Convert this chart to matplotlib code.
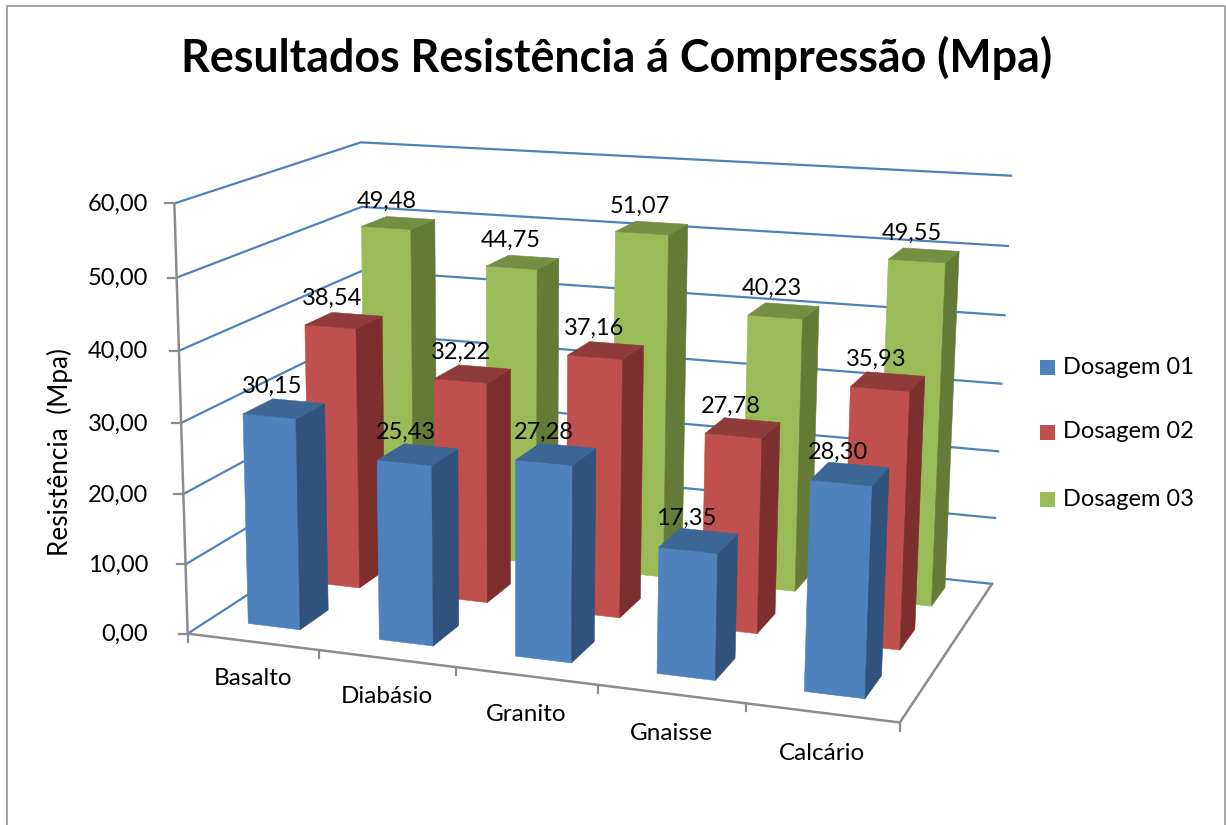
import numpy as np
import matplotlib
matplotlib.use("Agg")
from matplotlib import pyplot as plt
from matplotlib.patches import Polygon, Rectangle

categories = ["Basalto", "Diabásio", "Granito", "Gnaisse", "Calcário"]
series_names = ["Dosagem 01", "Dosagem 02", "Dosagem 03"]
dosagem_01 = [30.15, 25.43, 27.28, 17.35, 28.30]
dosagem_02 = [38.54, 32.22, 37.16, 27.78, 35.93]
dosagem_03 = [49.48, 44.75, 51.07, 40.23, 49.55]
value_ticks = [0, 10, 20, 30, 40, 50, 60]

# front, side, top face colours per series
face_colors = [("#4F81BD", "#30527C", "#3E6695"),
               ("#C0504D", "#7D2F2E", "#8F3B39"),
               ("#9BBB59", "#667A38", "#748E44")]
GRID = "#4F81BD"
AXIS = "#8C8C8C"
BAR_X = (0.295, 0.695)
BAR_Z = (0.34, 0.80)

# (category pos, series pos, value) -> pixel, used to fit the 3d view
anchors = [((0, 0, 0), (190, 630)), ((5, 0, 0), (899, 723)),
           ((5, 3, 0), (993, 579)), ((0, 3, 0), (363, 522)),
           ((0, 0, 60), (172, 203)), ((0, 3, 60), (363, 143)),
           ((5, 3, 60), (1011, 178)), ((0, 0, 30), (181, 420)),
           ((5, 3, 30), (1002, 382)), ((1, 0, 0), (321, 650)),
           ((2, 0, 0), (457, 668)), ((3, 0, 0), (597, 688)),
           ((4, 0, 0), (744, 706)), ((0, 3, 30), (363, 333))]


def fit_view(points):
    rows = []
    for (x, z, v), (px, py) in points:
        w = [x, z, v / 10.0, 1.0]
        rows.append(w + [0, 0, 0, 0] + [-px * c for c in w])
        rows.append([0, 0, 0, 0] + w + [-py * c for c in w])
    return np.linalg.svd(np.array(rows, dtype=float))[2][-1].reshape(3, 4)


VIEW = fit_view(anchors)


def project(x, z, v):
    px, py, w = VIEW @ np.array([x, z, v / 10.0, 1.0])
    return px / w, py / w


def plot_walls(ax):
    for v in value_ticks:
        xs, ys = zip(project(0, 0, v), project(0, 3, v), project(5, 3, v))
        ax.plot(xs, ys, color=GRID, lw=1.6, zorder=1, solid_joinstyle="miter")
        tx, ty = project(0, 0, v)
        ax.plot([tx - 9, tx], [ty, ty], color=AXIS, lw=1.6, zorder=1)
        ax.text(148, ty + 1, ("%.2f" % v).replace(".", ","), ha="right", va="center", fontsize=17)
    xs, ys = zip(project(0, 0, 60), project(0, 0, 0), project(5, 0, 0), project(5, 3, 0))
    ax.plot(xs, ys, color=AXIS, lw=1.8, zorder=1.5)
    for i in range(len(categories) + 1):
        tx, ty = project(i, 0, 0)
        ax.plot([tx, tx], [ty, ty + 8], color=AXIS, lw=1.6, zorder=1.5)


def plot_bar(ax, i, j, value, colors):
    x0, x1 = i + BAR_X[0], i + BAR_X[1]
    z0, z1 = j + BAR_Z[0], j + BAR_Z[1]
    front = [project(x0, z0, 0), project(x1, z0, 0), project(x1, z0, value), project(x0, z0, value)]
    side = [project(x1, z0, 0), project(x1, z1, 0), project(x1, z1, value), project(x1, z0, value)]
    top = [project(x0, z0, value), project(x1, z0, value), project(x1, z1, value), project(x0, z1, value)]
    for pts, color in zip((front, side, top), colors):
        ax.add_patch(Polygon(pts, closed=True, facecolor=color, edgecolor=color, lw=0.4, zorder=2 + (3 - j)))
    cx, cy = project((x0 + x1) / 2, (z0 + z1) / 2, value)
    ax.text(cx - 12, cy - 22, ("%.2f" % value).replace(".", ","), ha="center", va="center", fontsize=17, zorder=10)


def main():
    plt.rcParams["font.family"] = ["Lato", "DejaVu Sans"]
    fig = plt.figure(figsize=(12.26, 8.25), dpi=100)
    ax = fig.add_axes([0, 0, 1, 1])
    ax.set_xlim(0, 1226)
    ax.set_ylim(825, 0)
    ax.axis("off")

    # chart frame
    ax.plot([7, 7, 1225, 1225], [825, 5.5, 5.5, 825], color="#A6A6A6", lw=1.4)

    plot_walls(ax)
    all_series = [dosagem_01, dosagem_02, dosagem_03]
    for j in reversed(range(3)):
        for i, value in enumerate(all_series[j]):
            plot_bar(ax, i, j, value, face_colors[j])

    for i, name in enumerate(categories):
        tx, ty = project(i + 0.5, 0, 0)
        ax.text(tx, ty + 37 + i, name, ha="center", va="center", fontsize=17.5)

    for name, colors, y in zip(series_names, face_colors, [367, 432, 499]):
        ax.add_patch(Rectangle((1040, y - 7.5), 15, 15, facecolor=colors[0], edgecolor="none"))
        ax.text(1063, y, name, ha="left", va="center", fontsize=17)

    ax.text(617, 58, "Resultados Resistência á Compressão (Mpa)", ha="center", va="center",
            fontsize=32.2, fontweight="bold")
    ax.text(60, 452, "Resistência  (Mpa)", rotation=90, ha="center", va="center", fontsize=18.8)

    fig.savefig("out.png", dpi=100)


if __name__ == "__main__":
    main()
